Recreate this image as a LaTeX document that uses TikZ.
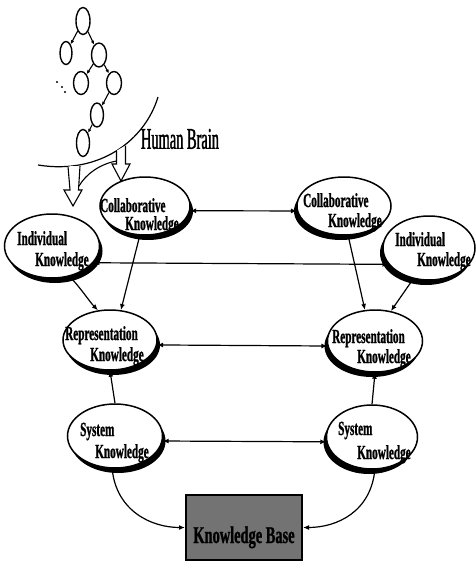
\documentclass[tikz,border=0pt]{standalone}
\usepackage{fontspec}
\newfontfamily\nfont[FakeStretch=0.56, FakeBold=1]{Liberation Serif}
\newfontfamily\kbfont[FakeStretch=0.6, FakeBold=1]{Liberation Serif}
\newfontfamily\hbfont[FakeStretch=0.48, FakeBold=1.2]{Liberation Serif}
\usetikzlibrary{shapes.geometric,shadows,arrows.meta}
\begin{document}
\begin{tikzpicture}[x=1pt,y=-1pt,
 kn/.style={ellipse, draw, line width=1.5pt, fill=white, inner sep=0pt},
 shL/.style={drop shadow={shadow xshift=3pt, shadow yshift=-5pt, fill=black, opacity=1}},
 shR/.style={drop shadow={shadow xshift=-3pt, shadow yshift=-5pt, fill=black, opacity=1}},
 lbl/.style={anchor=base west, inner sep=0pt, font=\nfont\bfseries\fontsize{20}{20}\selectfont},
 con/.style={line width=1.2pt, -{Latex[length=6pt,width=5pt]}},
 bicon/.style={line width=1.2pt, {Latex[length=6pt,width=5pt]}-{Latex[length=6pt,width=5pt]}},
 tr/.style={ellipse, draw, line width=1.4pt, inner sep=0pt},
 trc/.style={line width=1.1pt, -{Latex[length=4pt,width=3.5pt]}},
 hollow/.style={draw, line width=1.1pt, fill=white, line join=miter},
]
\useasboundingbox (0,0) rectangle (475,573);

% tree of thoughts
\node[tr, minimum width=14pt, minimum height=27pt] (t1) at (83,21) {};
\node[tr, minimum width=12pt, minimum height=23pt] (t2) at (66,53) {};
\node[tr, minimum width=15pt, minimum height=24pt] (t3) at (99,55) {};
\node[tr, minimum width=15pt, minimum height=23pt] (t4) at (81,83) {};
\node[tr, minimum width=15pt, minimum height=23pt] (t5) at (114,83) {};
\node[tr, minimum width=13pt, minimum height=24pt] (t6) at (97,115) {};
\node[tr, minimum width=13pt, minimum height=27pt] (t7) at (83,143) {};
\draw[trc] (t1) -- (t2);
\draw[trc] (t1) -- (t3);
\draw[trc] (t3) -- (t4);
\draw[trc] (t3) -- (t5);
\draw[trc] (t5) -- (t6);
\draw[trc] (t6) -- (t7);
\fill (57,82) circle (1.1pt) (62,87) circle (1.1pt) (65,92) circle (1.2pt);

% brain boundary
\draw[line width=1.2pt] (38,165) .. controls (100,175) and (145,140) .. (158,97);
\node[inner sep=0pt, font=\hbfont\fontsize{30}{30}\selectfont] (hb) at (180,139) {Human Brain};

% hollow arrows from the brain
\draw[hollow] (116.5,150.8) -- (116.5,164) -- (112,164) -- (121,181) -- (130,164) -- (125.5,164) -- (125.5,145.5);
\draw[hollow] (68,166.3) -- (70,190) -- (64,190) -- (73,206) -- (82,190) -- (78.5,190) -- (80,166);
\draw[line width=1.1pt] (116.5,161) .. controls (100,164) and (86,174) .. (79,186);

% knowledge ellipses
\node[kn, shL, minimum width=90pt, minimum height=58pt] (CL) at (145,206) {};
\node[kn, shR, minimum width=94pt, minimum height=58pt] (CR) at (344,206) {};
\node[kn, shL, minimum width=95pt, minimum height=64pt] (IL) at (52,246) {};
\node[kn, shR, minimum width=92pt, minimum height=64pt] (IR) at (429,248) {};
\node[kn, shL, minimum width=94pt, minimum height=60pt] (RL) at (110,340) {};
\node[kn, shR, minimum width=95pt, minimum height=62pt] (RR) at (375,341) {};
\node[kn, shL, minimum width=95pt, minimum height=64pt] (SL) at (115,436) {};
\node[kn, shR, minimum width=91pt, minimum height=64pt] (SR) at (372,437) {};

\node[lbl] (CLa) at (100,212) {Collaborative};
\node[lbl] (CLb) at (125,230) {Knowledge};
\node[lbl] (CRa) at (303,207) {Collaborative};
\node[lbl] (CRb) at (328,227) {Knowledge};
\node[lbl] (ILa) at (17,245) {Individual};
\node[lbl] (ILb) at (35,266) {Knowledge};
\node[lbl] (IRa) at (395,246) {Individual};
\node[lbl] (IRb) at (417,266) {Knowledge};
\node[lbl] (RLa) at (65,340) {Representation};
\node[lbl] (RLb) at (90,361) {Knowledge};
\node[lbl] (RRa) at (332,343) {Representation};
\node[lbl] (RRb) at (357,363) {Knowledge};
\node[lbl] (SLa) at (80,436) {System};
\node[lbl] (SLb) at (95,458) {Knowledge};
\node[lbl] (SRa) at (338,435) {System};
\node[lbl] (SRb) at (357,459) {Knowledge};

% knowledge base
\node[draw, line width=2pt, fill=black!55, minimum width=116pt, minimum height=65pt, inner sep=0pt] (KB) at (244,527.5) {};
\node[inner sep=0pt, anchor=base, font=\kbfont\bfseries\fontsize{24}{24}\selectfont] (KBt) at (244,543) {Knowledge Base};

% connectors
\draw[bicon] (CL.-6) -- (CR.186);
\draw[bicon] (IL.-22) -- (IR.202);
\draw[bicon] (RL.-6) -- (RR.186);
\draw[bicon] (SL.-6) -- (SR.186);
\draw[con] (CL.-100) -- (RL.70);
\draw[con] (IL.-60) .. controls +(10,10) and +(-8,-8) .. (RL.112);
\draw[con] (CR.-82) -- (RR.108);
\draw[con] (IR.-117) -- (RR.62);
\draw[con] (SL.north) -- (RL.south);
\draw[con] (SR.north) -- (RR.south);
\draw[con] (SL.-95) .. controls +(4,42) and +(-34,0) .. (KB.west);
\draw[con] (SR.-85) .. controls +(-4,42) and +(34,0) .. (KB.east);
\end{tikzpicture}
\end{document}
